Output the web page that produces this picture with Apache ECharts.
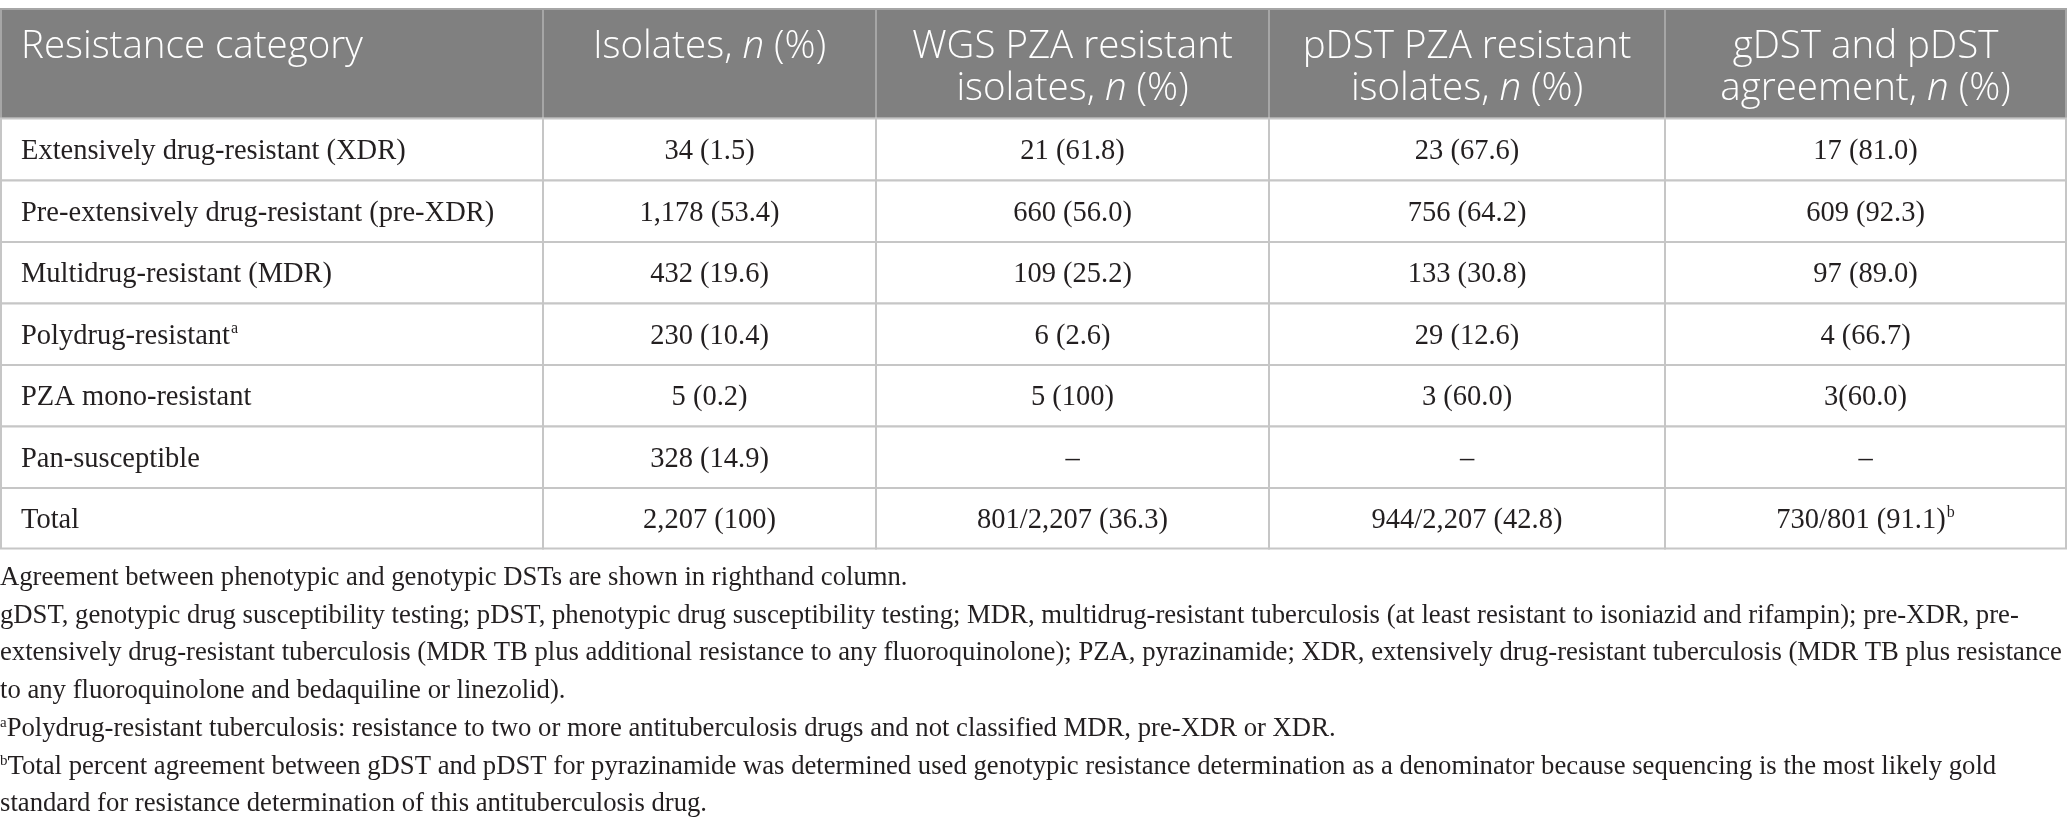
<!DOCTYPE html>
<html><head><meta charset="utf-8">
<script src="https://cdn.jsdelivr.net/npm/echarts@6/dist/echarts.min.js"></script>
<style>html,body{margin:0;padding:0;background:#fff;overflow:hidden}#c{width:2067px;height:830px}</style>
</head><body><div id="c"></div>
<script>
// ---- data ----
const headers = ['Resistance category', 'Isolates, n (%)', 'WGS PZA resistant\nisolates, n (%)', 'pDST PZA resistant\nisolates, n (%)', 'gDST and pDST\nagreement, n (%)'];
const categories = ['Extensively drug-resistant (XDR)', 'Pre-extensively drug-resistant (pre-XDR)', 'Multidrug-resistant (MDR)', 'Polydrug-resistant', 'PZA mono-resistant', 'Pan-susceptible', 'Total'];
const categoryMarks = ['', '', '', 'a', '', '', ''];
const isolates = ['34 (1.5)', '1,178 (53.4)', '432 (19.6)', '230 (10.4)', '5 (0.2)', '328 (14.9)', '2,207 (100)'];
const wgsResistant = ['21 (61.8)', '660 (56.0)', '109 (25.2)', '6 (2.6)', '5 (100)', '–', '801/2,207 (36.3)'];
const pdstResistant = ['23 (67.6)', '756 (64.2)', '133 (30.8)', '29 (12.6)', '3 (60.0)', '–', '944/2,207 (42.8)'];
const agreement = ['17 (81.0)', '609 (92.3)', '97 (89.0)', '4 (66.7)', '3(60.0)', '–', '730/801 (91.1)'];
const agreementMarks = ['', '', '', '', '', '', 'b'];
const footnotes = [
  'Agreement between phenotypic and genotypic DSTs are shown in righthand column.',
  'gDST, genotypic drug susceptibility testing; pDST, phenotypic drug susceptibility testing; MDR, multidrug-resistant tuberculosis (at least resistant to isoniazid and rifampin); pre-XDR, pre-',
  'extensively drug-resistant tuberculosis (MDR TB plus additional resistance to any fluoroquinolone); PZA, pyrazinamide; XDR, extensively drug-resistant tuberculosis (MDR TB plus resistance',
  'to any fluoroquinolone and bedaquiline or linezolid).',
  'Polydrug-resistant tuberculosis: resistance to two or more antituberculosis drugs and not classified MDR, pre-XDR or XDR.',
  'Total percent agreement between gDST and pDST for pyrazinamide was determined used genotypic resistance determination as a denominator because sequencing is the most likely gold',
  'standard for resistance determination of this antituberculosis drug.'
];
const footnoteMarks = ['', '', '', '', 'a', 'b', ''];

// ---- layout ----
const W = 2067, H = 830;
const colEdges = [1, 543, 876, 1269, 1665, 2066];
const rowEdges = [9, 118.5, 180.5, 242, 303.5, 365, 426.5, 488, 548.5];
const footTop = 578, footStep = 37.7;
const SERIF = '"Liberation Serif", "DejaVu Serif", serif';
const SANS = '"Open Sans", "Noto Sans", sans-serif';
const INK = '#231f20';
const BODY_SIZE = 28.5, FOOT_SIZE = 26.7, HEAD_SIZE = 38.5;

const columns = [categories, isolates, wgsResistant, pdstResistant, agreement];
const marks = [categoryMarks, null, null, null, agreementMarks];

const cells = [];
for (let r = 0; r <= categories.length; r++) for (let c = 0; c < headers.length; c++) cells.push([c, r]);

const headRich = {
  h: { fontFamily: SANS, fontSize: HEAD_SIZE, fontWeight: 300, fill: '#fff', lineHeight: 42 },
  i: { fontFamily: SANS, fontSize: HEAD_SIZE, fontWeight: 300, fontStyle: 'italic', fill: '#fff', lineHeight: 42 }
};
const bodyRich = {
  t: { fontFamily: SERIF, fontSize: BODY_SIZE, fill: INK, lineHeight: 34 },
  s: { fontFamily: SERIF, fontSize: 16, fill: INK, lineHeight: 34, verticalAlign: 'top', padding: [2, 0, 0, 1] }
};
const footRich = {
  t: { fontFamily: SERIF, fontSize: FOOT_SIZE, fill: INK, lineHeight: 30 },
  s: { fontFamily: SERIF, fontSize: 15, fill: INK, lineHeight: 30, verticalAlign: 'top', padding: [2, 0, 0, 0] }
};

function headText(s) {
  return s.split('\n').map(line => line.replace(/^(.*), n (.*)$/, (m, a, b) => '{h|' + a + ', }{i|n}{h| ' + b + '}').replace(/^([^{].*)$/, '{h|$1}')).join('\n');
}
function bodyText(s, mark) {
  return '{t|' + s + '}' + (mark ? '{s|' + mark + '}' : '');
}

function renderCell(params, api) {
  const c = api.value(0), r = api.value(1);
  const p0 = api.coord([colEdges[c], rowEdges[r]]);
  const p1 = api.coord([colEdges[c + 1], rowEdges[r + 1]]);
  const isHead = r === 0;
  const left = c === 0;
  let text, rich;
  if (isHead) { text = headText(headers[c]); rich = headRich; }
  else { const m = marks[c]; text = bodyText(columns[c][r - 1], m ? m[r - 1] : ''); rich = bodyRich; }
  const tx = left ? p0[0] + 20 : (p0[0] + p1[0]) / 2;
  const ty = isHead ? p0[1] + 17 : (p0[1] + p1[1]) / 2 + 2;
  return {
    type: 'group',
    children: [
      { type: 'rect', shape: { x: p0[0], y: p0[1], width: p1[0] - p0[0], height: p1[1] - p0[1] },
        style: { fill: isHead ? '#808080' : '#fff', stroke: isHead ? '#a6a6a6' : '#c6c6c6', lineWidth: 2 } },
      { type: 'text', x: tx, y: ty,
        style: { text: text, rich: rich, align: left ? 'left' : 'center', verticalAlign: isHead ? 'top' : 'middle' } }
    ]
  };
}

function renderFoot(params, api) {
  const i = api.value(0);
  const p = api.coord([0, footTop + i * footStep]);
  const mk = footnoteMarks[i];
  return { type: 'text', x: p[0], y: p[1],
    style: { text: (mk ? '{s|' + mk + '}' : '') + '{t|' + footnotes[i] + '}', rich: footRich, align: 'left', verticalAlign: 'middle' } };
}

const chart = echarts.init(document.getElementById('c'), null, { renderer: 'canvas' });
chart.setOption({
  animation: false,
  backgroundColor: '#fff',
  grid: { left: 0, right: 0, top: 0, bottom: 0 },
  xAxis: { type: 'value', min: 0, max: W, show: false },
  yAxis: { type: 'value', min: 0, max: H, inverse: true, show: false },
  series: [
    { type: 'custom', renderItem: renderCell, data: cells, encode: { x: 0, y: 1 }, silent: true, clip: false },
    { type: 'custom', renderItem: renderFoot, data: footnotes.map((f, i) => [i]), silent: true, clip: false }
  ]
});
</script></body></html>
